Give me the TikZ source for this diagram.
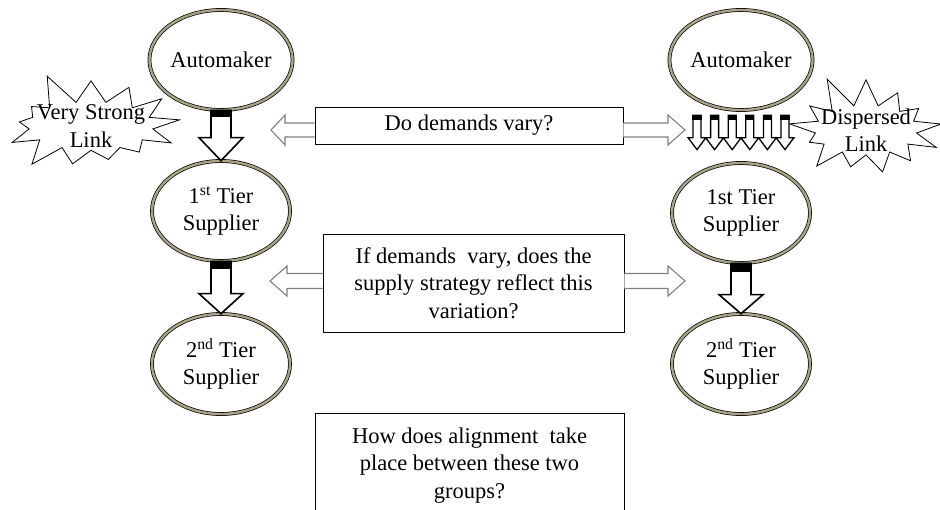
\documentclass[tikz,border=0pt]{standalone}
\usepackage{fontspec}
\setmainfont{Liberation Serif}
\usetikzlibrary{shapes.geometric,shapes.symbols,calc}
\definecolor{ringtan}{HTML}{A8A288}
\definecolor{arrowgray}{HTML}{7F7F7F}
\tikzset{
  firm/.style={ellipse, draw=black, line width=0.7pt, double=ringtan,
    double distance=2.4pt, fill=white, minimum width=138pt, minimum height=100pt,
    inner sep=0pt, align=center},
  question/.style={draw=black, line width=0.8pt, fill=white, align=center, inner sep=0pt},
  burst/.style={starburst, draw=black, line width=0.8pt, fill=white, align=center,
    starburst points=13, starburst point height=34pt, inner ysep=-4pt},
  blockarrow/.style={draw=black, line width=1.6pt, fill=white, line join=miter},
  openarrow/.style={draw=arrowgray, line width=1.1pt, fill=white, line join=miter}
}
\begin{document}
\begin{tikzpicture}[x=1pt,y=-1pt]
  \fontsize{22.5}{27.5}\selectfont
  \useasboundingbox (0,0) rectangle (940,509);
  % supply chains
  \node[firm] (autoL) at (221,60) {Automaker};
  \node[firm] (tierL1) at (221,211) {1\textsuperscript{st} Tier\\Supplier};
  \node[firm] (tierL2) at (221,364) {2\textsuperscript{nd} Tier\\Supplier};
  \node[firm] (autoR) at (741,60) {Automaker};
  \node[firm] (tierR1) at (741,213) {1st Tier\\Supplier};
  \node[firm] (tierR2) at (741,364) {2\textsuperscript{nd} Tier\\Supplier};
  % questions
  \node[question, minimum width=308pt, minimum height=37pt] (vary) at (469,125.5) {Do demands vary?};
  \node[question, minimum width=301pt, minimum height=98pt] (reflect) at (473.5,283)
    {If demands \ vary, does the\\supply strategy reflect this\\variation?};
  \node[question, minimum width=309pt, inner ysep=14pt, anchor=north] (align) at (469.5,413)
    {How does alignment \ take\\place between these two\\groups?};
  \coordinate (tipVL) at (271,130);
  \coordinate (tipVR) at (685,130);
  \coordinate (tipRL) at (270,281);
  \coordinate (tipRR) at (685,281);
  % open arrows
  \begin{scope}
    \draw[openarrow] let \p1=(vary.west), \p2=(tipVL) in
      (\x1,\y2+7pt) -- (\x2+14pt,\y2+7pt) -- (\x2+14pt,\y2+15pt) -- (\x2,\y2)
      -- (\x2+14pt,\y2-15pt) -- (\x2+14pt,\y2-7pt) -- (\x1,\y2-7pt);
    \draw[openarrow] let \p1=(vary.east), \p2=(tipVR) in
      (\x1,\y2+7pt) -- (\x2-17pt,\y2+7pt) -- (\x2-17pt,\y2+15pt) -- (\x2,\y2)
      -- (\x2-17pt,\y2-15pt) -- (\x2-17pt,\y2-7pt) -- (\x1,\y2-7pt);
    \draw[openarrow] let \p1=(reflect.west), \p2=(tipRL) in
      (\x1,\y2+7.5pt) -- (\x2+17pt,\y2+7.5pt) -- (\x2+17pt,\y2+15pt) -- (\x2,\y2)
      -- (\x2+17pt,\y2-15pt) -- (\x2+17pt,\y2-7.5pt) -- (\x1,\y2-7.5pt);
    \draw[openarrow] let \p1=(reflect.east), \p2=(tipRR) in
      (\x1,\y2+7.5pt) -- (\x2-17pt,\y2+7.5pt) -- (\x2-17pt,\y2+15pt) -- (\x2,\y2)
      -- (\x2-17pt,\y2-15pt) -- (\x2-17pt,\y2-7.5pt) -- (\x1,\y2-7.5pt);
  \end{scope}
  % block arrows
  \begin{scope}
    \draw[blockarrow] let \p1=(autoL.south), \p2=(tierL1.north) in
      (\x1-10pt,\y1) -- (\x1-10pt,\y2+23pt) -- (\x1-22pt,\y2+23pt) -- (\x1,\y2)
      -- (\x1+22pt,\y2+23pt) -- (\x1+10pt,\y2+23pt) -- (\x1+10pt,\y1) -- cycle;
    \fill let \p1=(autoL.south) in (\x1-10pt,\y1) rectangle (\x1+10pt,\y1-7pt);
    \draw[blockarrow] let \p1=(tierL1.south), \p2=(tierL2.north) in
      (\x1-10pt,\y1) -- (\x1-10pt,\y2+20pt) -- (\x1-22pt,\y2+20pt) -- (\x1,\y2)
      -- (\x1+22pt,\y2+20pt) -- (\x1+10pt,\y2+20pt) -- (\x1+10pt,\y1) -- cycle;
    \fill let \p1=(tierL1.south) in (\x1-10pt,\y1) rectangle (\x1+10pt,\y1-8pt);
    \draw[blockarrow] let \p1=(tierR1.south), \p2=(tierR2.north) in
      (\x1-10pt,\y1) -- (\x1-10pt,\y2+19pt) -- (\x1-22pt,\y2+19pt) -- (\x1,\y2)
      -- (\x1+22pt,\y2+19pt) -- (\x1+10pt,\y2+19pt) -- (\x1+10pt,\y1) -- cycle;
    \fill let \p1=(tierR1.south) in (\x1-10pt,\y1) rectangle (\x1+10pt,\y1-9pt);
    \foreach \i in {0,...,5} {
      \draw[blockarrow, line width=1.3pt] let \p1=(autoR.south), \p2=(tierR1.north) in
        (\x1-44pt+17.6*\i pt-4pt,\y1-5pt) -- (\x1-44pt+17.6*\i pt-4pt,\y2+25pt)
        -- (\x1-44pt+17.6*\i pt-9pt,\y2+25pt) -- (\x1-44pt+17.6*\i pt,\y2+13pt)
        -- (\x1-44pt+17.6*\i pt+9pt,\y2+25pt) -- (\x1-44pt+17.6*\i pt+4pt,\y2+25pt)
        -- (\x1-44pt+17.6*\i pt+4pt,\y1-5pt) -- cycle;
      \fill let \p1=(autoR.south) in
        (\x1-44pt+17.6*\i pt-4.6pt,\y1-5pt) rectangle (\x1-44pt+17.6*\i pt+4.6pt,\y1-10pt);
    }
  \end{scope}
  % links
  \node[burst, inner xsep=-10pt, random starburst=5] (strong) at (91,126)
    {Very Strong\\Link};
  \node[burst, inner xsep=-9pt, random starburst=11] (dispersed) at (866,130)
    {Dispersed\\Link};
\end{tikzpicture}
\end{document}
